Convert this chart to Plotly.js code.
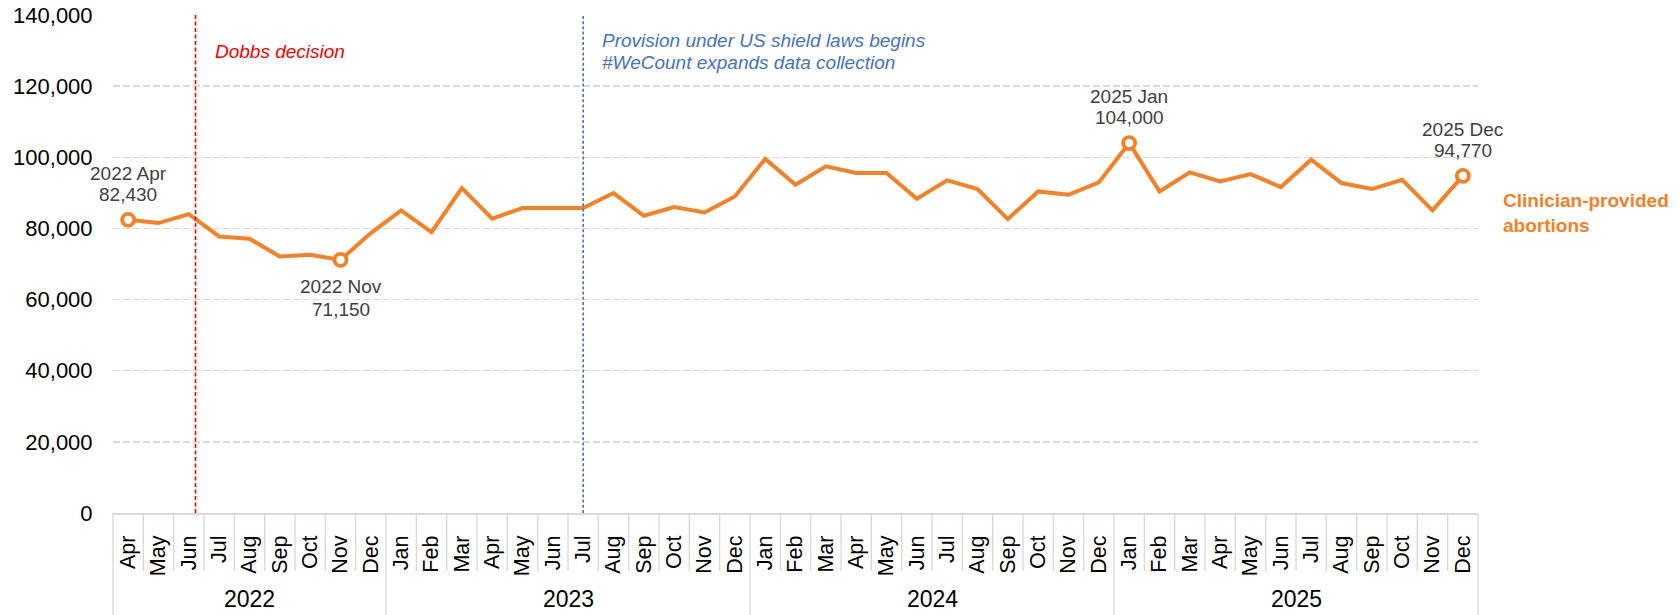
<!DOCTYPE html>
<html>
<head>
<meta charset="utf-8">
<script src="https://cdn.plot.ly/plotly-3.0.1.min.js"></script>
<style>
  html, body { margin: 0; padding: 0; background: #ffffff; }
  #chart { width: 1680px; height: 615px; }
</style>
</head>
<body>
<div id="chart"></div>
<script>
// ---- Data ----
const years = [
  '2022','2022','2022','2022','2022','2022','2022','2022','2022',
  '2023','2023','2023','2023','2023','2023','2023','2023','2023','2023','2023','2023',
  '2024','2024','2024','2024','2024','2024','2024','2024','2024','2024','2024','2024',
  '2025','2025','2025','2025','2025','2025','2025','2025','2025','2025','2025','2025'
];
const months = [
  'Apr','May','Jun','Jul','Aug','Sep','Oct','Nov','Dec',
  'Jan','Feb','Mar','Apr','May','Jun','Jul','Aug','Sep','Oct','Nov','Dec',
  'Jan','Feb','Mar','Apr','May','Jun','Jul','Aug','Sep','Oct','Nov','Dec',
  'Jan','Feb','Mar','Apr','May','Jun','Jul','Aug','Sep','Oct','Nov','Dec'
];
const abortions = [
  82430, 81500, 84030, 77750, 77090, 72120, 72590, 71150, 78690,
  85060, 78970, 91350, 82720, 85720, 85720, 85720, 89940, 83560, 86000, 84500, 89000,
  99530, 92290, 97440, 95570, 95570, 88350, 93500, 91070, 82630, 90410, 89470, 92940,
  104000, 90410, 95760, 93220, 95290, 91630, 99320, 92760, 91070, 93690, 85060, 94770
];
const yTickValues = [0, 20000, 40000, 60000, 80000, 100000, 120000, 140000];

// Highlighted points
const highlightLabels = ['2022 Apr', '2022 Nov', '2025 Jan', '2025 Dec'];
const highlightSides  = ['above', 'below', 'above', 'above'];

// Events
const eventMonths = ['2022 Jun', '2023 Jul'];
const eventOffsets = [0.22, 0];
const eventTexts = [
  ['Dobbs decision'],
  ['Provision under US shield laws begins', '#WeCount expands data collection']
];
const eventColors = ['#ff0000', '#4472c4'];
const seriesName = 'Clinician-provided<br>abortions';

// ---- Build ----
const FONT = 'Liberation Sans, Arial, sans-serif';
const ORANGE = '#f58025';
const GREY = '#d9d9d9';
const categories = months.map((m, i) => years[i] + ' ' + m);
const n = categories.length;

const lineTrace = {
  type: 'scatter', mode: 'lines',
  x: categories, y: abortions,
  line: { color: ORANGE, width: 4 },
  cliponaxis: false, hoverinfo: 'skip'
};
const hlIdx = highlightLabels.map(l => categories.indexOf(l));
const markerTrace = {
  type: 'scatter', mode: 'markers',
  x: hlIdx.map(i => categories[i]), y: hlIdx.map(i => abortions[i]),
  marker: { symbol: 'circle', size: 12, color: '#ffffff', line: { color: ORANGE, width: 3.8 } },
  cliponaxis: false, hoverinfo: 'skip'
};

const shapes = [];
// category separators (month ticks) and year dividers
for (let k = 0; k <= n; k++) {
  const isYear = (k === 0 || k === n || years[k] !== years[k - 1]);
  shapes.push({
    type: 'line', xref: 'paper', yref: 'paper',
    x0: k / n, x1: k / n, y0: 0, y1: isYear ? -0.205 : -0.1165,
    line: { color: GREY, width: 1.3 }, layer: 'below'
  });
}
// event lines
eventMonths.forEach((m, j) => {
  const xi = categories.indexOf(m) + eventOffsets[j];
  shapes.push({
    type: 'line', xref: 'x', yref: 'y',
    x0: xi, x1: xi, y0: 0, y1: yTickValues[yTickValues.length - 1],
    line: { color: eventColors[j], width: 1.6, dash: j === 0 ? '4px,2.5px' : '3px,2.2px' }
  });
});

const annotations = [];
// event texts
eventMonths.forEach((m, j) => {
  const xi = categories.indexOf(m) + eventOffsets[j];
  const lines = eventTexts[j];
  const yCenters = lines.length === 1 ? [0.9263] : [0.9484, 0.9042];
  lines.forEach((t, k) => {
    annotations.push({
      xref: 'x', yref: 'paper', x: xi, y: yCenters[k], xanchor: 'left', yanchor: 'middle',
      xshift: 17, text: '<i>' + t + '</i>', showarrow: false,
      font: { family: FONT, size: 19, color: eventColors[j] }
    });
  });
});
// highlighted point labels
hlIdx.forEach((i, j) => {
  const above = highlightSides[j] === 'above';
  const lines = [categories[i], abortions[i].toLocaleString('en-US')];
  const shifts = above ? [46.5, 25.3] : [-27, -50];
  lines.forEach((t, k) => {
    annotations.push({
      xref: 'x', yref: 'y', x: categories[i], y: abortions[i],
      xanchor: 'center', yanchor: 'middle', yshift: shifts[k],
      text: t, showarrow: false,
      font: { family: FONT, size: 19, color: '#404040' }
    });
  });
});
// year labels
const yearList = [...new Set(years)];
yearList.forEach(yr => {
  const first = years.indexOf(yr);
  const last = years.lastIndexOf(yr);
  annotations.push({
    xref: 'paper', yref: 'paper', x: (first + last + 1) / 2 / n, y: -0.1735,
    xanchor: 'center', yanchor: 'middle', text: yr, showarrow: false,
    font: { family: FONT, size: 23, color: '#000000' }
  });
});
// series label
annotations.push({
  xref: 'paper', yref: 'paper', x: 1.0168, y: 0.602, xanchor: 'left', yanchor: 'middle',
  align: 'left', text: '<b>' + seriesName + '</b>', showarrow: false,
  font: { family: FONT, size: 19, color: ORANGE }
});

const layout = {
  width: 1680, height: 615,
  margin: { l: 113, r: 202, t: 15, b: 102, pad: 0 },
  paper_bgcolor: '#ffffff', plot_bgcolor: '#ffffff',
  showlegend: false, hovermode: false,
  font: { family: FONT, color: '#000000' },
  xaxis: {
    type: 'category', categoryorder: 'array', categoryarray: categories,
    range: [-0.5, n - 0.5],
    tickmode: 'array', tickvals: categories, ticktext: months,
    tickangle: -90, tickfont: { family: FONT, size: 21.5, color: '#000000' },
    ticks: 'outside', ticklen: 12, tickcolor: 'rgba(0,0,0,0)',
    showgrid: false, zeroline: false,
    showline: true, linecolor: GREY, linewidth: 2,
    fixedrange: true
  },
  yaxis: {
    range: [0, 140000],
    tickmode: 'array', tickvals: yTickValues, tickformat: ',d',
    tickfont: { family: FONT, size: 22, color: '#000000' },
    ticks: 'outside', ticklen: 15, tickcolor: 'rgba(0,0,0,0)',
    showgrid: true, gridcolor: GREY, gridwidth: 1.3, griddash: '7px,3px',
    zeroline: false, showline: false, fixedrange: true
  },
  shapes: shapes,
  annotations: annotations
};

Plotly.newPlot('chart', [lineTrace, markerTrace], layout, { displayModeBar: false, staticPlot: true });
</script>
</body>
</html>
